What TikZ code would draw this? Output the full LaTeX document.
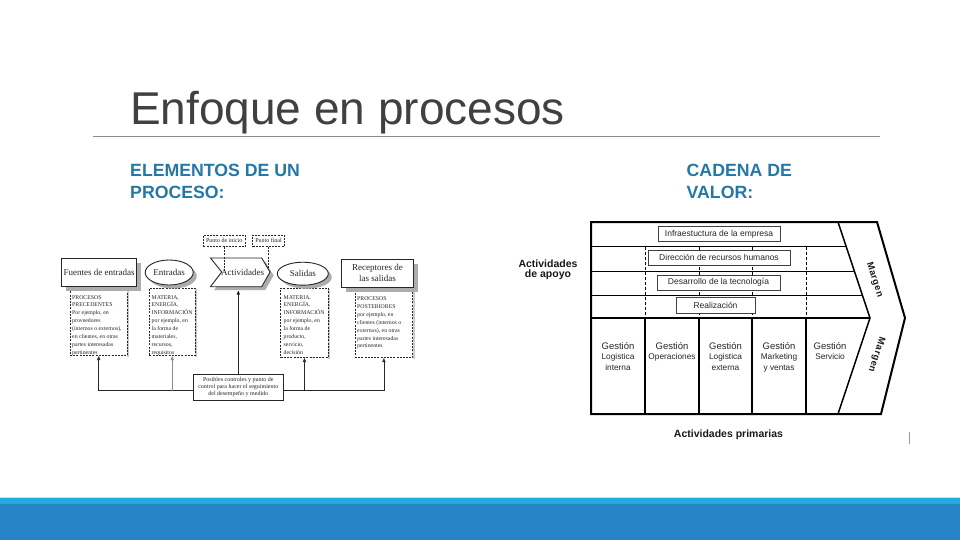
\documentclass[tikz,border=0pt]{standalone}
\usepackage{fontspec}
\setmainfont{Liberation Sans}
\newfontfamily\scanserif{Liberation Serif}
\newfontfamily\margfont[LetterSpace=6]{Liberation Sans}
\usetikzlibrary{shapes.geometric,arrows.meta}
\definecolor{titlegray}{HTML}{404040}
\definecolor{subblue}{HTML}{2478A8}
\definecolor{barlight}{HTML}{22AADF}
\definecolor{barline}{HTML}{BFE6F5}
\definecolor{bardark}{HTML}{2683C6}
\definecolor{ink}{HTML}{262626}
\begin{document}
\begin{tikzpicture}[x=1pt,y=-1pt,
  shadowfill/.style={fill=black!32},
  scanfont/.style={font=\scanserif\fontsize{9}{11}\selectfont},
  procbox/.style={rectangle,draw=ink,line width=0.9pt,fill=white,inner sep=0pt,text=ink,align=center,scanfont},
  procell/.style={ellipse,draw=ink,line width=0.9pt,fill=white,inner sep=0pt,text=ink,scanfont},
  notebox/.style={rectangle,draw=ink,dash pattern=on 2pt off 1.2pt,line width=0.6pt,fill=white,inner sep=0pt},
  notetext/.style={anchor=north west,inner sep=0pt,align=left,text=ink,font=\scanserif\fontsize{5.8}{7.9}\selectfont},
  markbox/.style={rectangle,draw=ink,dash pattern=on 2pt off 1.2pt,line width=0.6pt,fill=white,inner sep=0pt,text=ink,font=\scanserif\fontsize{6}{7}\selectfont},
  ctrlbox/.style={rectangle,draw=ink,line width=0.8pt,fill=white,inner sep=0pt,text=ink,align=center,font=\scanserif\fontsize{6}{7.3}\selectfont},
  flow/.style={draw=ink,line width=0.7pt,-{Triangle[length=4pt,width=3.2pt]}},
  markline/.style={draw=ink,line width=0.6pt,dash pattern=on 2pt off 1.2pt},
  vcbox/.style={rectangle,draw=black!75,line width=0.7pt,fill=white,inner sep=0pt,text=black!85,font=\fontsize{8.5}{10}\selectfont},
  vctext/.style={anchor=north,inner sep=0pt,align=center,text=black!85,font=\fontsize{8.3}{10.8}\selectfont},
  vclabel/.style={inner sep=0pt,align=center,text=black!90,font=\bfseries\fontsize{10.5}{10}\selectfont},
  marglabel/.style={inner sep=0pt,text=black!90,font=\margfont\bfseries\fontsize{9.3}{10}\selectfont},
  subhead/.style={anchor=base west,inner sep=0pt,text=subblue,font=\bfseries\fontsize{17.7}{21}\selectfont},
]
\useasboundingbox (0,0) rectangle (960,540);
\fill[white] (0,0) rectangle (960,540);
% bottom bars
\fill[barline] (0,497) rectangle (960,498.3);
\fill[barlight] (0,498.3) rectangle (960,504);
\fill[bardark] (0,504) rectangle (960,540);

% title
\node[anchor=base west,inner sep=0pt,text=titlegray,font=\fontsize{46}{50}\selectfont] (title) at (130,124.5) {Enfoque en procesos};
\draw[black!45,line width=0.8pt] (93,136) -- (880,136);

\node[subhead] (sub1a) at (130,176) {ELEMENTOS DE UN};
\node[subhead] (sub1b) at (130,198) {PROCESO:};
\node[subhead] (sub2a) at (686.5,176.5) {CADENA DE};
\node[subhead] (sub2b) at (686.5,198) {VALOR:};

% ===== process elements diagram =====
% dashed note boxes with thin side shadow
\fill[black!20] (127.3,289) rectangle (129.3,356.7);
\fill[black!20] (195,289) rectangle (197,356.7);
\fill[black!20] (328.3,289) rectangle (330.3,358.7);
\fill[black!20] (412.7,291) rectangle (414.7,358.7);
\node[notebox,minimum width=57.3pt,minimum height=67.7pt] (fuentesd) at (98.7,321.9) {};
\node[notebox,minimum width=45.7pt,minimum height=67.7pt] (entd) at (172.2,321.9) {};
\node[notebox,minimum width=47.6pt,minimum height=69.4pt] (sald) at (304.5,323) {};
\node[notebox,minimum width=57.7pt,minimum height=67.7pt] (recd) at (383.9,323.9) {};

\node[notetext] (fuentest) at (72,295) {PROCESOS\\PRECEDENTES\\Por ejemplo, en\\proveedores\\(internos o externos),\\en clientes, en otras\\partes interesadas\\pertinentes};
\node[notetext] (entt) at (151.5,295) {MATERIA,\\ENERGÍA,\\INFORMACIÓN\\por ejemplo, en\\la forma de\\materiales,\\recursos,\\requisitos};
\node[notetext] (salt) at (283.5,295) {MATERIA,\\ENERGÍA,\\INFORMACIÓN\\por ejemplo, en\\la forma de\\producto,\\servicio,\\decisión};
\node[notetext] (rect) at (357,296.5) {PROCESOS\\POSTERIORES\\por ejemplo, en\\clientes (internos o\\externos), en otras\\partes interesadas\\pertinentes};

% shadows of the main shapes
\fill[shadowfill] (66.2,262.8) rectangle (141.2,291.2);
\fill[shadowfill] (172.7,276) ellipse [x radius=24, y radius=12.5];
\fill[shadowfill] (306.3,277.2) ellipse [x radius=25.5, y radius=11.5];
\fill[shadowfill] (346.2,263.8) rectangle (417.8,291.8);
\begin{scope}[shift={(3.5,3.5)}]
\fill[shadowfill] (210.5,258) -- (261.7,258) -- (270,272) -- (261.7,286.7) -- (210.5,286.7) -- (221.7,272) -- cycle;
\end{scope}

\node[procbox,minimum width=75pt,minimum height=28.4pt] (fuentes) at (99.2,272.5) {Fuentes de entradas};
\node[procell,minimum width=48pt,minimum height=25pt] (entradas) at (169.2,272.5) {Entradas};
\node[procell,minimum width=51pt,minimum height=23pt] (salidas) at (302.8,273.7) {Salidas};
\node[procbox,minimum width=71.6pt,minimum height=28pt] (receptores) at (377.5,273.3) {Receptores de\\las salidas};

% chevron Actividades
\draw[ink,line width=0.9pt,fill=white,line join=miter] (210.5,258) -- (261.7,258) -- (270,272) -- (261.7,286.7) -- (210.5,286.7) -- (221.7,272) -- cycle;
\node[inner sep=0pt,scanfont,text=ink] (activ) at (242.5,272) {Actividades};
\coordinate (activnotch) at (224.2,271);
\coordinate (activtip) at (268.5,270);
\coordinate (activbot) at (238.3,290.5);

\node[markbox,minimum width=41.7pt,minimum height=11.7pt] (inicio) at (224.2,240.8) {Punto de inicio};
\node[markbox,minimum width=31.6pt,minimum height=11.7pt] (final) at (268.5,240.8) {Punto final};
\draw[markline] (inicio.south) -- (activnotch);
\draw[markline] (final.south) -- (activtip);

\node[ctrlbox,minimum width=90pt,minimum height=25.7pt] (ctrl) at (238.3,387.2) {Posibles controles y punto de\\control para hacer el seguimiento\\del desempeño y medido};
\coordinate (cl) at ([yshift=-3.5pt]ctrl.west);
\coordinate (cr) at ([yshift=-3.5pt]ctrl.east);
\draw[flow] (cl) -| (fuentesd.south);
\draw[flow,draw=black!45] (entd.south |- cl) -- (entd.south);
\draw[flow] (ctrl.north) -- (activbot);
\draw[flow] (cr) -| (recd.south);
\draw[flow] (sald.south |- cr) -- (sald.south);

% ===== value chain =====
\coordinate (vctl) at (591,222);
\coordinate (vctr) at (877,222);
\coordinate (vctip) at (905,318);
\coordinate (vcbr) at (881,414);
\coordinate (vcbl) at (591,414);
\coordinate (mtop) at (838,222);
\coordinate (mtip) at (870,318);
\coordinate (mbot) at (838,414);

\foreach \xx in {645,699,752,806}
  \draw[black,line width=0.8pt,dash pattern=on 3pt off 2pt] (\xx,246.5) -- (\xx,318);
\draw[black,line width=0.9pt] (591,246.5) -- (846.5,246.5);
\draw[black,line width=0.9pt] (591,271) -- (854.6,271);
\draw[black,line width=0.9pt] (591,295) -- (862.5,295);
\foreach \xx in {645,699,752,806}
  \draw[black,line width=1.3pt] (\xx,318) -- (\xx,414);
\draw[black,line width=2.2pt] (591,318) -- (mtip);
\draw[black,line width=1.5pt,line join=miter] (mtop) -- (mtip) -- (mbot);
\draw[black,line width=2pt,line join=miter] (vctl) -- (vctr) -- (vctip) -- (vcbr) -- (vcbl) -- cycle;

\node[vcbox,minimum width=122pt,minimum height=15pt] (infra) at (719,234.2) {Infraestuctura de la empresa};
\node[vcbox,minimum width=142pt,minimum height=15pt] (rrhh) at (719,257.5) {Dirección de recursos humanos};
\node[vcbox,minimum width=123pt,minimum height=15pt] (tec) at (718.5,282.5) {Desarrollo de la tecnología};
\node[vcbox,minimum width=79pt,minimum height=16pt] (real) at (715.5,305.7) {Realización};

\node[vctext] (p1) at (618,342) {{\fontsize{9.5}{10}\selectfont Gestión}\\Logistica\\interna};
\node[vctext] (p2) at (672,342) {{\fontsize{9.5}{10}\selectfont Gestión}\\Operaciones};
\node[vctext] (p3) at (725.5,342) {{\fontsize{9.5}{10}\selectfont Gestión}\\Logistica\\externa};
\node[vctext] (p4) at (779,342) {{\fontsize{9.5}{10}\selectfont Gestión}\\Marketing\\y ventas};
\node[vctext] (p5) at (830,342) {{\fontsize{9.5}{10}\selectfont Gestión}\\Servicio};

\node[marglabel,rotate=-72] (m1) at (874.5,280) {Margen};
\node[marglabel,rotate=-108] (m2) at (876.5,354.5) {Margen};

\node[vclabel,anchor=north] (apoyo) at (548,259.8) {Actividades\\de apoyo};
\node[vclabel,anchor=base] (prim) at (728.5,437) {Actividades primarias};

\draw[black!40,line width=0.8pt] (909,432) -- (909,444);
\end{tikzpicture}
\end{document}
